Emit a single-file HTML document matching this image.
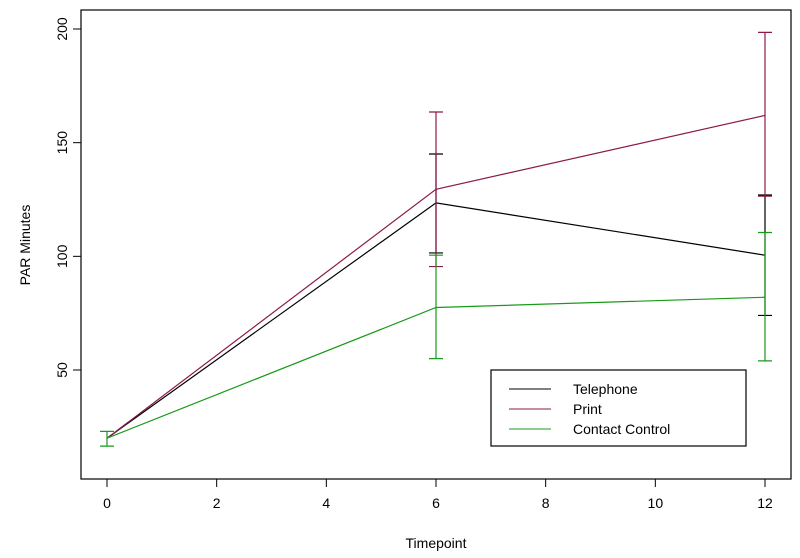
<!DOCTYPE html>
<html><head><meta charset="utf-8"><style>
body{margin:0;background:#fff}
svg{display:block;font-family:"Liberation Sans",Arial,sans-serif}
</style></head><body>
<svg id="chart" width="800" height="558">
<rect x="81" y="10" width="710" height="469" fill="none" stroke="#000" stroke-width="1.2"/>
<g id="axes"></g><g id="series"></g>
<text x="436" y="548" font-size="14" text-anchor="middle">Timepoint</text>
<text transform="translate(30,245) rotate(-90)" font-size="14" text-anchor="middle">PAR Minutes</text>
<g>
<rect x="491" y="370" width="255" height="76" fill="#fff" stroke="#000" stroke-width="1.2"/>
<line x1="509" x2="551" y1="389" y2="389" stroke="#000"/>
<text x="573" y="394" font-size="14">Telephone</text>
<line x1="509" x2="551" y1="409" y2="409" stroke="#8b1a4b"/>
<text x="573" y="414" font-size="14">Print</text>
<line x1="509" x2="551" y1="429" y2="429" stroke="#1a9a1a"/>
<text x="573" y="434" font-size="14">Contact Control</text>
</g>
</svg>
<script>
const timepoints=[0,6,12];
const xTicks=[0,2,4,6,8,10,12];
const yTicks=[50,100,150,200];
const telephoneMean=[20,123.5,100.5];
const telephoneLow=[20,101.5,74];
const telephoneHigh=[20,145,127];
const printMean=[20,129.5,162];
const printLow=[20,95.5,126.5];
const printHigh=[20,163.5,198.5];
const controlMean=[20,77.5,82];
const controlLow=[16.5,55,54];
const controlHigh=[23,100.5,110.5];
const NS="http://www.w3.org/2000/svg";
const xs=v=>107+v*(765-107)/12;
const ys=v=>370-(v-50)*(341/150);
function mk(tag,attrs,parent){const e=document.createElementNS(NS,tag);for(const k in attrs)e.setAttribute(k,attrs[k]);parent.appendChild(e);return e;}
const ax=document.getElementById('axes');
xTicks.forEach(t=>{
 const l=mk('line',{x1:xs(t),x2:xs(t),y1:479,y2:487,stroke:'#000'},ax);
 
 
 const tx=mk('text',{x:xs(t),y:508,'font-size':14,'text-anchor':'middle'},ax);
 tx.textContent=t;
 
 
});
yTicks.forEach(t=>{
 const l=mk('line',{x1:73,x2:81,y1:ys(t),y2:ys(t),stroke:'#000'},ax);
 
 
 const tx=mk('text',{transform:`translate(67,${ys(t)}) rotate(-90)`,'font-size':14,'text-anchor':'middle'},ax);
 tx.textContent=t;
 
 
});
const sg=document.getElementById('series');
function draw(name,mean,lo,hi,col){
 const g=mk('g',{},sg);
 
 
 const pl=mk('polyline',{points:timepoints.map((t,i)=>xs(t)+','+ys(mean[i])).join(' '),fill:'none',stroke:col,'stroke-width':1.2},g);
 
 
 timepoints.forEach((t,i)=>{
  if(lo[i]===hi[i])return;
  const x=xs(t);
  const eb=mk('path',{d:`M${x},${ys(lo[i])}V${ys(hi[i])}M${x-7},${ys(lo[i])}h14M${x-7},${ys(hi[i])}h14`,stroke:col,fill:'none','stroke-width':1.2},g);
  
  
 });
}
draw('telephone',telephoneMean,telephoneLow,telephoneHigh,'#000');
draw('print',printMean,printLow,printHigh,'#8b1a4b');
draw('contact-control',controlMean,controlLow,controlHigh,'#1a9a1a');
</script>
</body></html>
